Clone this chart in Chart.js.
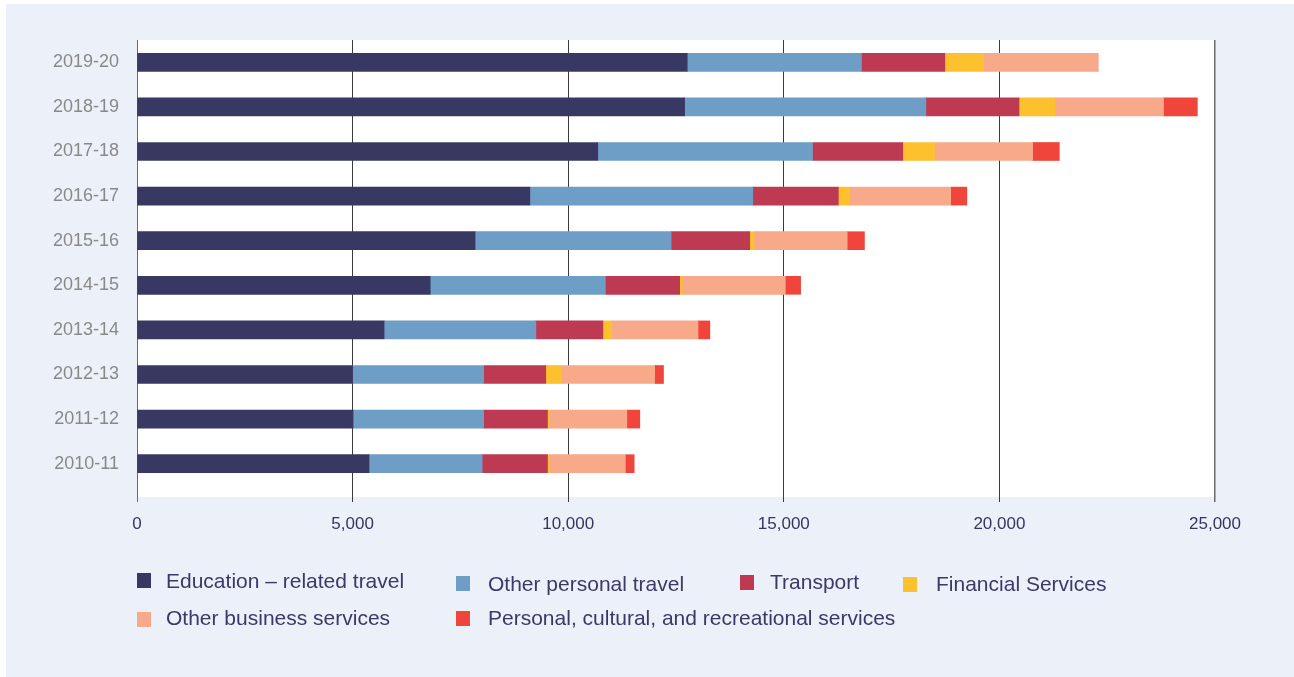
<!DOCTYPE html>
<html>
<head>
<meta charset="utf-8">
<script src="https://cdn.jsdelivr.net/npm/chart.js@4.4.0/dist/chart.umd.min.js"></script>
<style>
  html, body { margin: 0; padding: 0; background: #ffffff; }
  .panel {
    position: absolute; left: 6px; top: 4px; width: 1288px; height: 673px;
    background: #ecf0f8;
  }
  .wrap { position: absolute; left: 0; top: 0; width: 1294px; height: 677px; }
</style>
</head>
<body>
<div class="panel"></div>
<div class="wrap"><canvas id="tradeChart" width="1294" height="677"></canvas></div>
<script>
// Data kategori (tahun) dan nilai tiap seri
const years = ['2019-20', '2018-19', '2017-18', '2016-17', '2015-16', '2014-15', '2013-14', '2012-13', '2011-12', '2010-11'];

const educationTravel = [12760, 12700, 10685, 9110, 7840, 6800, 5730, 5000, 5010, 5380];
const otherPersonalTravel = [4040, 5595, 4980, 5170, 4547, 4062, 3520, 3040, 3030, 2625];
const transport = [1935, 2160, 2095, 1985, 1823, 1723, 1555, 1440, 1480, 1515];
const financialServices = [900, 835, 735, 265, 100, 55, 200, 355, 40, 40];
const otherBusinessServices = [2650, 2515, 2275, 2340, 2160, 2395, 2005, 2170, 1800, 1765];
const personalCultural = [0, 785, 620, 375, 400, 355, 275, 205, 300, 205];

const xTicks = [0, 5000, 10000, 15000, 20000, 25000];

const seriesNames = ['Education \u2013 related travel', 'Other personal travel', 'Transport', 'Financial Services', 'Other business services', 'Personal, cultural, and recreational services'];
const seriesColors = ['#383862', '#6e9dc6', '#be3a52', '#fdc12e', '#f8a98a', '#ef453b'];
const seriesData = [educationTravel, otherPersonalTravel, transport, financialServices, otherBusinessServices, personalCultural];

// posisi legend (kolom seperti di gambar)
const legendSpots = [
    { x: 137, y: 573, tx: 166, ty: 582 },
    { x: 456, y: 576, tx: 488, ty: 585 },
    { x: 740, y: 575, tx: 770, ty: 583 },
    { x: 903, y: 577, tx: 936, ty: 585 },
    { x: 137, y: 612, tx: 166, ty: 619 },
    { x: 456, y: 611, tx: 488, ty: 619 }
];

// latar putih area plot
const plotBackground = {
    id: 'plotBackground',
    beforeDraw(chart) {
        const { ctx, chartArea } = chart;
        ctx.save();
        ctx.fillStyle = '#ffffff';
        ctx.fillRect(chartArea.left, chartArea.top, chartArea.right - chartArea.left, chartArea.bottom - chartArea.top + 11);
        ctx.restore();
    }
};

// legend digambar manual
const customLegend = {
    id: 'customLegend',
    afterDraw(chart) {
        const ctx = chart.ctx;
        ctx.save();
        chart.data.datasets.forEach((ds, i) => {
            const spot = legendSpots[i];
            ctx.fillStyle = ds.backgroundColor;
            ctx.fillRect(spot.x, spot.y, 14, 15);
            ctx.fillStyle = '#3a3968';
            ctx.font = '21px "Liberation Sans", Arial, sans-serif';
            ctx.textBaseline = 'middle';
            ctx.textAlign = 'left';
            ctx.fillText(ds.label, spot.tx, spot.ty);
        });
        ctx.restore();
    }
};

const ctx = document.getElementById('tradeChart').getContext('2d');
const tradeChart = new Chart(ctx, {
    type: 'bar',
    data: {
        labels: years,
        datasets: seriesNames.map((name, i) => ({
            label: name,
            data: seriesData[i],
            backgroundColor: seriesColors[i],
            borderWidth: 0,
            barThickness: 18
        }))
    },
    options: {
        indexAxis: 'y',
        responsive: false,
        animation: false,
        layout: {
            padding: { top: 40, right: 79, bottom: 0, left: 0 }
        },
        plugins: {
            legend: { display: false },
            tooltip: { enabled: false }
        },
        scales: {
            x: {
                stacked: true,
                min: 0,
                max: 25000,
                afterBuildTicks(scale) {
                    scale.ticks = xTicks.map(v => ({ value: v }));
                },
                afterFit(scale) {
                    scale.height = 191;
                },
                border: { display: false },
                grid: {
                    color: c => (c.tick && (c.tick.value === 0 || c.tick.value === 25000)) ? '#6a6a6a' : '#3a3a3a',
                    lineWidth: c => (c.tick && c.tick.value === 25000) ? 1.5 : 1,
                    tickLength: 16,
                    drawTicks: true
                },
                ticks: {
                    padding: 12,
                    color: '#35355f',
                    font: { family: '"Liberation Sans", Arial, sans-serif', size: 17 },
                    maxRotation: 0,
                    callback: v => v.toLocaleString('en-US')
                }
            },
            y: {
                stacked: true,
                afterFit(scale) {
                    scale.width = 137;
                },
                border: { display: false },
                grid: { display: false, drawTicks: false },
                ticks: {
                    padding: 18,
                    color: '#898989',
                    font: { family: '"Liberation Sans", Arial, sans-serif', size: 18 }
                }
            }
        }
    },
    plugins: [plotBackground, customLegend]
});
</script>
</body>
</html>
